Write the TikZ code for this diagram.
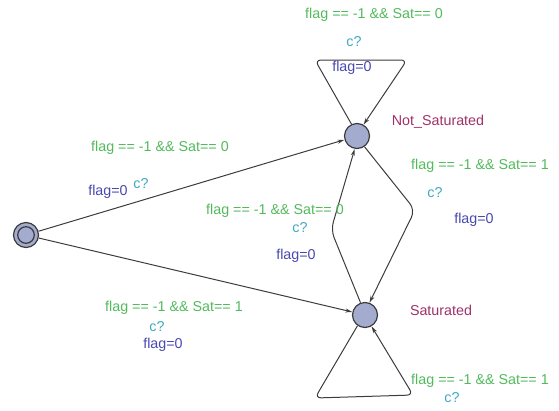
\documentclass[tikz,border=0pt]{standalone}
\usepackage{fontspec}
\setmainfont{Liberation Sans}
\usetikzlibrary{arrows.meta}
\definecolor{guardc}{RGB}{82,186,92}
\definecolor{syncc}{RGB}{64,168,192}
\definecolor{assignc}{RGB}{72,72,176}
\definecolor{namec}{RGB}{160,48,106}
\definecolor{locfill}{RGB}{163,171,207}
\definecolor{edgec}{RGB}{60,60,60}
\tikzset{
  loc/.style={circle,draw=edgec,fill=locfill,line width=1.2pt,minimum size=25pt,inner sep=0pt},
  initloc/.style={loc,path picture={\draw[edgec,line width=1.2pt] (path picture bounding box.center) circle (8.3pt);}},
  edge/.style={draw=edgec,line width=1pt,-{Stealth[length=7pt,width=4pt,open]}},
  txt/.style={font=\fontsize{14.3}{16}\selectfont,inner sep=0pt},
  guard/.style={txt,text=guardc},
  sync/.style={txt,text=syncc},
  assign/.style={txt,text=assignc},
  lname/.style={txt,text=namec},
}
\begin{document}
\begin{tikzpicture}[x=1pt,y=-1pt]
\useasboundingbox (0,0) rectangle (559,410);
\node[initloc] (init) at (26,235) {};
\node[loc] (ns) at (357,136) {};
\node[loc] (sat) at (365,315) {};
\coordinate (c1) at (315,60);
\coordinate (c2) at (407,60);
\coordinate (c3) at (415,210);
\coordinate (c4) at (331,230);
\coordinate (c5) at (315,398);
\coordinate (c6) at (413,395);

\draw[edge] (init) -- (ns);
\draw[edge] (init) -- (sat);
\draw[edge,rounded corners=6pt] (ns.115) -- (c1) -- (c2) -- (ns.60);
\draw[edge,rounded corners=8pt] (ns.-55) -- (c3) -- (sat.70);
\draw[edge,rounded corners=8pt] (sat.110) -- (c4) -- (ns.-100);
\draw[edge,rounded corners=6pt] (sat.-125) -- (c5) -- (c6) -- (sat.-60);

\node[guard] (g1) at (374,15) {flag == -1 \&\& Sat== 0};
\node[sync] (s1) at (354,42) {c?};
\node[assign] (a1) at (352,68) {flag=0};
\node[lname] (n1) at (438,122) {Not\_Saturated};

\node[guard] (g2) at (160,148) {flag == -1 \&\& Sat== 0};
\node[assign] (a2) at (108,192) {flag=0};
\node[sync] (s2) at (141,184) {c?};

\node[guard] (g3) at (480,166) {flag == -1 \&\& Sat== 1};
\node[sync] (s3) at (435,193) {c?};
\node[assign] (a3) at (474,220) {flag=0};

\node[guard] (g4) at (275,211) {flag == -1 \&\& Sat== 0};
\node[sync] (s4) at (300,228) {c?};
\node[assign] (a4) at (296,256) {flag=0};

\node[guard] (g5) at (174,308) {flag == -1 \&\& Sat== 1};
\node[sync] (s5) at (157,327) {c?};
\node[assign] (a5) at (163,345) {flag=0};

\node[lname] (n2) at (441,310) {Saturated};

\node[guard] (g6) at (480,381) {flag == -1 \&\& Sat== 1};
\node[sync] (s6) at (452,398) {c?};
\end{tikzpicture}
\end{document}
